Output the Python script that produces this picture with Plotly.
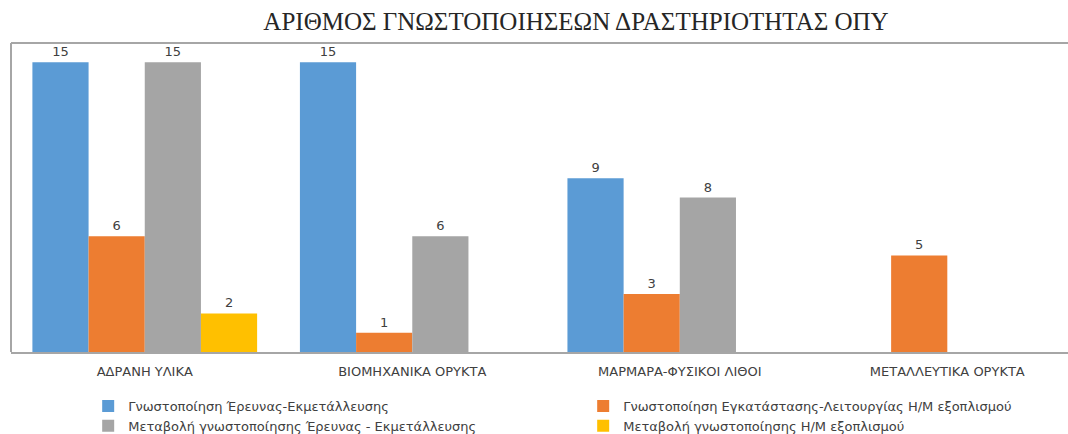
import plotly.graph_objects as go

categories = ["ΑΔΡΑΝΗ ΥΛΙΚΑ", "ΒΙΟΜΗΧΑΝΙΚΑ ΟΡΥΚΤΑ", "ΜΑΡΜΑΡΑ-ΦΥΣΙΚΟΙ ΛΙΘΟΙ", "ΜΕΤΑΛΛΕΥΤΙΚΑ ΟΡΥΚΤΑ"]
series_names = [
    "Γνωστοποίηση Έρευνας-Εκμετάλλευσης",
    "Γνωστοποίηση Εγκατάστασης-Λειτουργίας Η/Μ εξοπλισμού",
    "Μεταβολή γνωστοποίησης Έρευνας - Εκμετάλλευσης",
    "Μεταβολή γνωστοποίησης Η/Μ εξοπλισμού",
]
research = [15, 15, 9, None]
installation = [6, 1, 3, 5]
research_change = [15, 6, 8, None]
equipment_change = [2, None, None, None]
colors = ["#5b9bd5", "#ed7d31", "#a5a5a5", "#ffc000"]

fig = go.Figure()
for name, vals, col in zip(series_names, [research, installation, research_change, equipment_change], colors):
    fig.add_trace(go.Bar(
        x=categories, y=vals, name=name, marker=dict(color=col, line=dict(width=0)),
        text=[("" if v is None else str(v)) for v in vals], textposition="outside",
        textfont=dict(family="DejaVu Sans", size=13, color="#404040"), cliponaxis=False,
    ))

border = dict(color="#a6a6a6", width=2)
fig.update_layout(
    template="none",
    width=1080, height=434,
    margin=dict(l=11, r=0, t=43, b=82, autoexpand=False),
    paper_bgcolor="white", plot_bgcolor="white",
    barmode="group", bargap=0.16, bargroupgap=0,
    title=dict(text="ΑΡΙΘΜΟΣ ΓΝΩΣΤΟΠΟΙΗΣΕΩΝ ΔΡΑΣΤΗΡΙΟΤΗΤΑΣ ΟΠΥ", x=576/1080, xanchor="center",
               y=1 - 21/434, yanchor="middle", yref="container",
               font=dict(family="Liberation Serif", size=25, color="#262626")),
    xaxis=dict(range=[-0.5, 3.496], showline=True, mirror=False, linecolor="#a6a6a6", linewidth=2,
               showgrid=False, zeroline=False, ticks="", ticklabelstandoff=6,
               tickfont=dict(family="DejaVu Sans", size=13, color="#404040"), fixedrange=True),
    yaxis=dict(range=[0, 16], showline=False, showgrid=False, showticklabels=False, ticks="",
               zeroline=False, fixedrange=True),
    legend=dict(orientation="h", x=0.0722, xanchor="left", yref="container", y=1 - 391/434, yanchor="top",
                entrywidth=450, entrywidthmode="pixels", itemwidth=30, tracegroupgap=0,
                font=dict(family="DejaVu Sans", size=13, color="#404040"), bgcolor="rgba(0,0,0,0)"),
    shapes=[dict(type="line", xref="paper", yref="paper", x0=0, x1=0, y0=0, y1=1, line=border),
            dict(type="line", xref="paper", yref="paper", x0=0, x1=1, y0=1, y1=1, line=border)],
    showlegend=True,
)
fig.write_html("out.html", config={"displayModeBar": False},
               post_script="document.body.style.margin='0';document.body.style.overflow='hidden';")
